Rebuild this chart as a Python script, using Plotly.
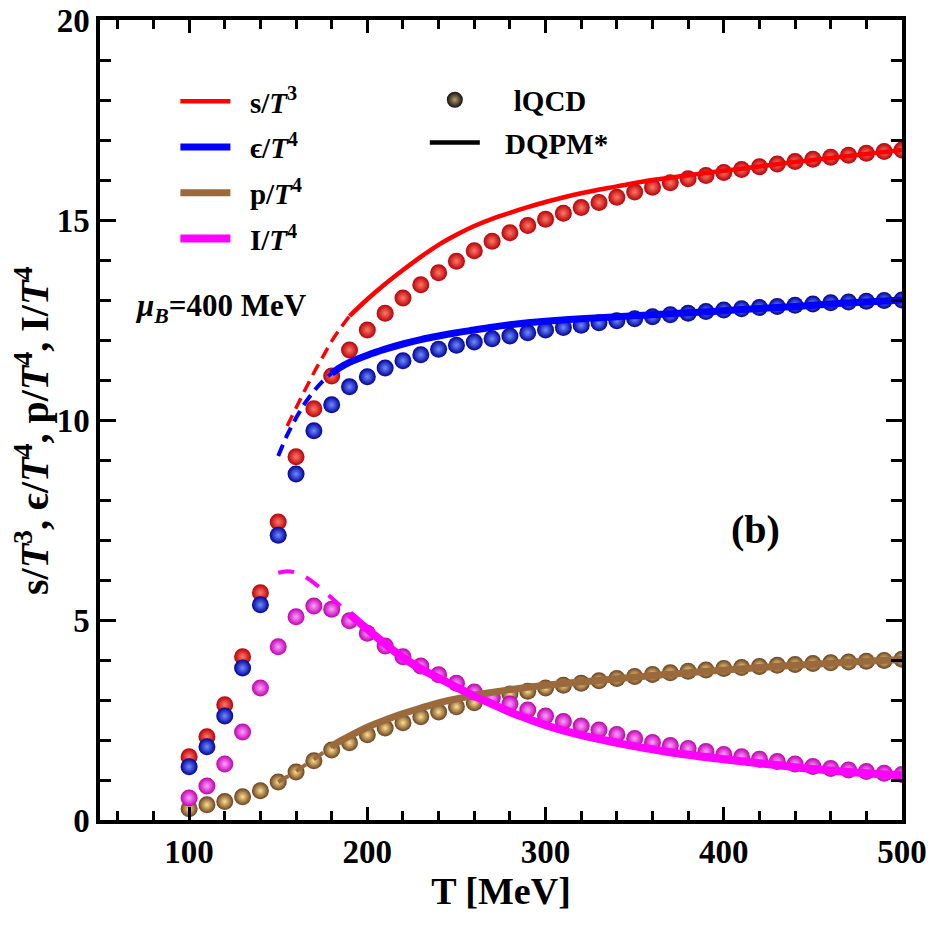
import plotly.graph_objects as go

# ---------------- data ----------------
T_lqcd = [100, 110, 120, 130, 140, 150, 160, 170, 180, 190, 200, 210, 220, 230, 240,
          250, 260, 270, 280, 290, 300, 310, 320, 330, 340, 350, 360, 370, 380, 390,
          400, 410, 420, 430, 440, 450, 460, 470, 480, 490, 500]

s_lqcd = [1.58, 2.08, 2.88, 4.08, 5.68, 7.45, 9.08, 10.28, 11.10, 11.75, 12.25, 12.67, 13.05,
          13.38, 13.68, 13.97, 14.23, 14.47, 14.68, 14.86, 15.02, 15.17, 15.31, 15.44, 15.57,
          15.70, 15.82, 15.93, 16.03, 16.11, 16.19, 16.26, 16.33, 16.40, 16.46, 16.52, 16.57,
          16.62, 16.67, 16.71, 16.75]
e_lqcd = [1.33, 1.83, 2.60, 3.80, 5.38, 7.12, 8.65, 9.73, 10.38, 10.83, 11.08, 11.30, 11.48,
          11.63, 11.77, 11.87, 11.95, 12.03, 12.10, 12.18, 12.25, 12.31, 12.37, 12.43, 12.48,
          12.53, 12.58, 12.63, 12.67, 12.71, 12.75, 12.78, 12.81, 12.84, 12.87, 12.90, 12.93,
          12.95, 12.97, 12.99, 13.00]
p_lqcd = [0.28, 0.38, 0.46, 0.58, 0.73, 0.95, 1.20, 1.48, 1.75, 1.93, 2.13, 2.30, 2.43, 2.58,
          2.70, 2.83, 2.93, 3.05, 3.15, 3.22, 3.30, 3.37, 3.42, 3.48, 3.54, 3.59, 3.64, 3.68,
          3.72, 3.75, 3.79, 3.81, 3.84, 3.87, 3.89, 3.91, 3.93, 3.95, 3.97, 3.99, 4.02]
i_lqcd = [0.55, 0.85, 1.40, 2.20, 3.30, 4.33, 5.08, 5.35, 5.27, 4.98, 4.67, 4.35, 4.08, 3.85,
          3.63, 3.42, 3.20, 3.05, 2.90, 2.75, 2.60, 2.46, 2.35, 2.25, 2.14, 2.04, 1.94, 1.86,
          1.79, 1.71, 1.64, 1.58, 1.52, 1.46, 1.40, 1.34, 1.29, 1.25, 1.21, 1.17, 1.14]

T_dqpm = [150, 155, 160, 165, 170, 175, 180, 185, 190, 200, 210, 220, 230, 240, 250, 260,
          270, 280, 290, 300, 320, 340, 360, 380, 400, 420, 440, 460, 480, 500]
s_dqpm = [None, 9.85, 10.30, 10.75, 11.18, 11.58, 11.97, 12.30, 12.60, 13.02, 13.40, 13.75,
          14.08, 14.38, 14.63, 14.85, 15.03, 15.18, 15.32, 15.45, 15.67, 15.84, 16.00, 16.12,
          16.23, 16.34, 16.45, 16.55, 16.65, 16.75]
e_dqpm = [9.10, 9.62, 10.05, 10.42, 10.72, 10.97, 11.17, 11.32, 11.44, 11.62, 11.77, 11.90,
          12.01, 12.10, 12.18, 12.25, 12.32, 12.38, 12.43, 12.47, 12.53, 12.58, 12.63, 12.68,
          12.73, 12.79, 12.84, 12.90, 12.95, 13.00]
p_dqpm = [0.95, 1.08, 1.22, 1.37, 1.52, 1.68, 1.84, 1.98, 2.10, 2.32, 2.50, 2.66, 2.80, 2.93,
          3.03, 3.12, 3.19, 3.26, 3.32, 3.37, 3.45, 3.53, 3.61, 3.68, 3.75, 3.81, 3.87, 3.92,
          3.97, 4.01]
i_dqpm = [6.18, 6.22, 6.18, 6.08, 5.93, 5.75, 5.55, 5.35, 5.15, 4.77, 4.40, 4.06, 3.78, 3.55,
          3.32, 3.10, 2.90, 2.70, 2.53, 2.37, 2.12, 1.93, 1.77, 1.63, 1.52, 1.42, 1.32, 1.24,
          1.17, 1.12]

# temperature where the DQPM* curve turns from dashed to solid
s_switch, e_switch, p_switch, i_switch = 190, 180, 180, 190

labels = ["<b>s/<i>T</i><sup>3</sup></b>", "<b>ϵ/<i>T</i><sup>4</sup></b>",
          "<b>p/<i>T</i><sup>4</sup></b>", "<b>I/<i>T</i><sup>4</sup></b>"]
y_title = ("<b>s/<i>T</i><sup>3</sup>, ϵ/<i>T</i><sup>4</sup>, "
           "p/<i>T</i><sup>4</sup>, I/<i>T</i><sup>4</sup></b>")

# ---------------- styles ----------------
FONT = "Liberation Serif"
EN = "\u2002"
EM = "\u2003"
series = [
    # lqcd, dqpm, switch, line color, sphere edge, sphere centre, solid w, dash w, dash
    (s_lqcd, s_dqpm, s_switch, "#ff0000", "#b80008", "#ff7a66", 3.5, 3.5, "12px,7px"),
    (e_lqcd, e_dqpm, e_switch, "#0000ff", "#00009a", "#6f8cff", 7, 4, "12px,7px"),
    (p_lqcd, p_dqpm, p_switch, "#9b6a3c", "#6a4020", "#ffe08c", 7, 4, "12px,9px"),
    (i_lqcd, i_dqpm, i_switch, "#ff00ff", "#c000b0", "#ffa0ff", 8, 4, "16px,13px"),
]

fig = go.Figure()

# lQCD spheres
for lq, dq, sw, lc, edge, centre, w_s, w_d, dash in series:
    fig.add_trace(go.Scatter(
        x=T_lqcd, y=lq, mode="markers", showlegend=False,
        marker=dict(size=17, color=edge, line=dict(width=0),
                    gradient=dict(type="radial", color=centre))))

# DQPM* curves
for k, (lq, dq, sw, lc, edge, centre, w_s, w_d, dash) in enumerate(series):
    xd = [t for t, v in zip(T_dqpm, dq) if t <= sw and v is not None]
    yd = [v for t, v in zip(T_dqpm, dq) if t <= sw and v is not None]
    xs = [t for t, v in zip(T_dqpm, dq) if t >= sw and v is not None]
    ys = [v for t, v in zip(T_dqpm, dq) if t >= sw and v is not None]
    fig.add_trace(go.Scatter(x=xd, y=yd, mode="lines", showlegend=False,
                             line=dict(color=lc, width=w_d, dash=dash, shape="spline")))
    fig.add_trace(go.Scatter(x=xs, y=ys, mode="lines", name=EN + labels[k],
                             legend="legend", legendgroup=f"g{k}",
                             line=dict(color=lc, width=w_s if k else 4.5, shape="spline")))

# second legend: lQCD / DQPM*
fig.add_trace(go.Scatter(x=[None], y=[None], mode="markers", name=EM + "<b>lQCD</b>",
                         legend="legend2", legendgroup="h1",
                         marker=dict(size=16, color="#111111", line=dict(width=0),
                                     gradient=dict(type="radial", color="#b89a6a"))))
fig.add_trace(go.Scatter(x=[None], y=[None], mode="lines", name=EN + "\u2009<b>DQPM*</b>",
                         legend="legend2", legendgroup="h2",
                         line=dict(color="black", width=4.5)))

axis_common = dict(showline=True, linecolor="black", linewidth=3.5, mirror="allticks",
                   ticks="inside", tickcolor="black", showgrid=False, zeroline=False,
                   automargin=False, ticklabeloverflow="allow",
                   tickfont=dict(family=FONT, size=33, color="black", weight="bold"))

fig.update_xaxes(range=[50, 500], tickvals=[100, 200, 300, 400, 500], ticklen=13, tickwidth=3,
                 minor=dict(dtick=20, tick0=0, ticks="inside", ticklen=9, tickwidth=2.5,
                            tickcolor="black"),
                 title=dict(text="<b>T [MeV]</b>", font=dict(family=FONT, size=38, color="black"),
                            standoff=0),
                 **axis_common)
fig.update_yaxes(range=[0, 20], tickvals=[0, 5, 10, 15, 20], ticklen=16, tickwidth=3,
                 minor=dict(dtick=1, tick0=0, ticks="inside", ticklen=11, tickwidth=2.5,
                            tickcolor="black"),
                 **axis_common)

# y-axis title (as rotated annotation for precise placement)
fig.add_annotation(xref="paper", yref="paper", x=-0.085, y=0.486, xanchor="center",
                   yanchor="middle", showarrow=False, textangle=-90, text=y_title,
                   font=dict(family=FONT, size=40, color="black"))

fig.add_annotation(xref="paper", yref="paper", x=0.041, y=0.64, xanchor="left",
                   yanchor="middle", showarrow=False,
                   text="<b><i>μ<sub>B</sub></i>=400 MeV</b>",
                   font=dict(family=FONT, size=31, color="black"))
fig.add_annotation(xref="paper", yref="paper", x=0.817, y=0.363, xanchor="center",
                   yanchor="middle", showarrow=False, text="<b>(b)</b>",
                   font=dict(family=FONT, size=40, color="black"))

legend_font = dict(family=FONT, size=29, color="black")
fig.update_layout(
    width=933, height=925,
    margin=dict(l=100, r=31, t=20, b=105, autoexpand=False),
    plot_bgcolor="white", paper_bgcolor="white",
    legend=dict(x=0.094, y=0.93, xanchor="left", yanchor="top", font=legend_font,
                bgcolor="rgba(0,0,0,0)", tracegroupgap=5, itemwidth=50),
    legend2=dict(x=0.405, y=0.932, xanchor="left", yanchor="top", font=legend_font,
                 bgcolor="rgba(0,0,0,0)", tracegroupgap=2, itemwidth=50),
)

# remove the default page margin so the figure fills the window exactly
fig.write_html("out.html", config={"displayModeBar": False},
               post_script="document.body.style.margin='0';")
